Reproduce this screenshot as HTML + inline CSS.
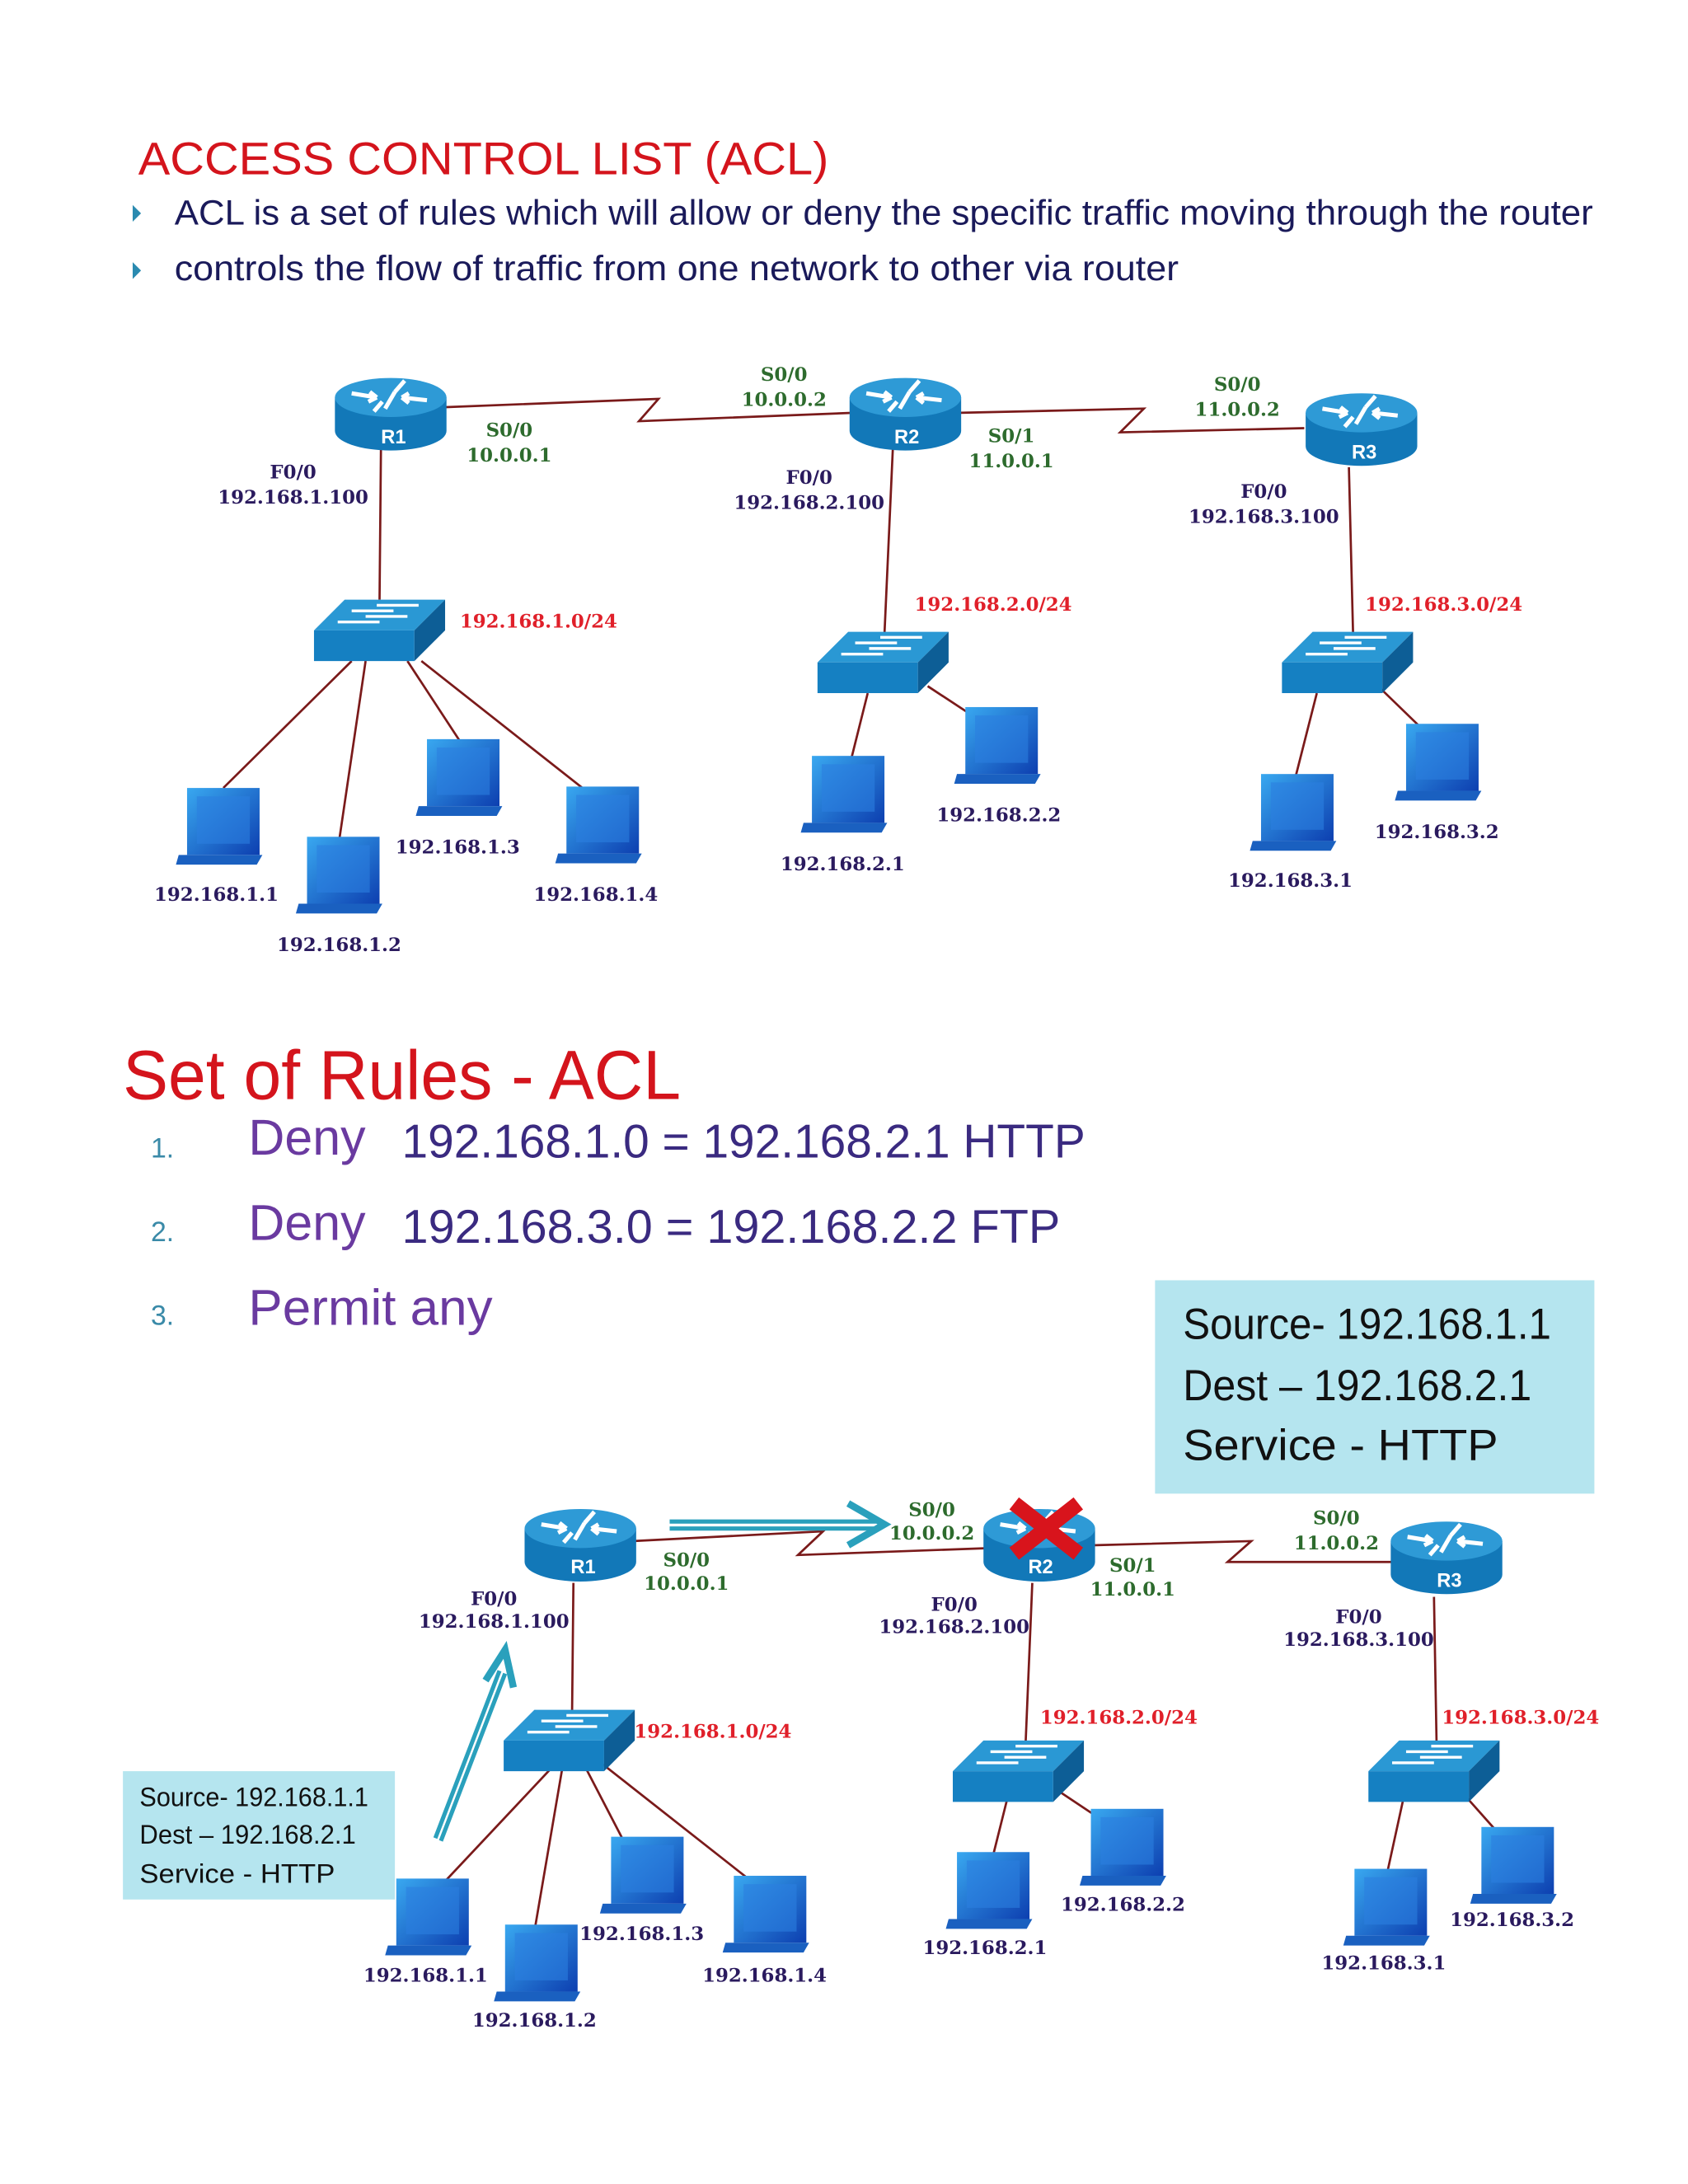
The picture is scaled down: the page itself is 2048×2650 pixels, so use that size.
<!DOCTYPE html>
<html><head><meta charset="utf-8"><style>
html,body{margin:0;padding:0;background:#fff;}
svg{display:block;}
.lb{font-family:"DejaVu Serif","Liberation Serif",serif;font-weight:bold;font-size:13.5px;text-anchor:middle;}
.g{fill:#2d6b2d}.n{fill:#2a1a5e}.r{fill:#e0202a}
.ln{stroke:#7a1a1a;stroke-width:1.6;fill:none}
</style></head><body>
<svg width="2048" height="2650" viewBox="0 0 1210 1566" xmlns="http://www.w3.org/2000/svg">
<defs>
<linearGradient id="pg" x1="0" y1="0" x2="1" y2="1"><stop offset="0" stop-color="#39a8f0"/><stop offset="1" stop-color="#0d3fb0"/></linearGradient>
<g id="router">
<path d="M-40,-12 L-40,12 A40,14 0 0 0 40,12 L40,-12 Z" fill="#1278b8"/>
<ellipse cx="0" cy="-12" rx="40" ry="14" fill="#2e9ad6"/>
<path d="M-28,-15 L-10,-12 M-10,-12 l-5,-4 M-10,-12 l-6,3 M26,-10 L8,-12 M8,-12 l5,-3 M8,-12 l5,4 M-4,-4 L3,-16 M-12,-2 l6,-7 M10,-24 L3,-16" stroke="#fff" stroke-width="3" fill="none"/>
</g>
<g id="switch">
<path d="M-47,4 L25,4 L47,-18 L-25,-18 Z" fill="#2a98d4"/>
<path d="M-47,4 L25,4 L25,26 L-47,26 Z" fill="#1580c2"/>
<path d="M25,4 L47,-18 L47,4 L25,26 Z" fill="#0d5e96"/>
<path d="M-20,-10 L10,-10 M-30,-2 L0,-2 M-2,-14 L28,-14 M-10,-6 L20,-6" stroke="#fff" stroke-width="2"/>
</g>
<g id="pc">
<rect x="-26" y="-28" width="52" height="48" fill="url(#pg)"/>
<rect x="-19" y="-22" width="38" height="34" fill="#2b7fe0" opacity="0.6"/>
<path d="M-32,20 L28,20 L24,27 L-34,27 Z" fill="#1a60c0"/>
</g>
</defs>

<!-- header -->
<text x="99" y="125" font-family="'Liberation Sans',sans-serif" font-size="33" fill="#d4141c" textLength="495" lengthAdjust="spacingAndGlyphs">ACCESS CONTROL LIST  (ACL)</text>
<path d="M95,147 L101,153 L95,159 Z" fill="#2a8ab0"/>
<path d="M95,188 L101,194 L95,200 Z" fill="#2a8ab0"/>
<text x="125" y="161" font-family="'Liberation Sans',sans-serif" font-size="25" fill="#1a1a5a" textLength="1017" lengthAdjust="spacingAndGlyphs">ACL is a set of rules which will allow or deny the specific traffic moving through the router</text>
<text x="125" y="201" font-family="'Liberation Sans',sans-serif" font-size="25" fill="#1a1a5a" textLength="720" lengthAdjust="spacingAndGlyphs">controls the flow of traffic from one network to other via router</text>

<!-- diagram 1 links -->
<path class="ln" d="M318,292 L472,286 L458,302 L612,296"/>
<path class="ln" d="M688,296 L820,293 L803,310 L935,307"/>
<path class="ln" d="M273,322 L272,430 M640,322 L634,455 M967,335 L970,455"/>
<path class="ln" d="M252,474 L160,565 M262,474 L243,603 M292,474 L330,532 M302,474 L420,567"/>
<path class="ln" d="M622,497 L610,545 M665,492 L700,515 M944,497 L928,560 M990,494 L1022,525"/>
<use href="#router" x="280" y="297"/>
<use href="#router" x="649" y="297"/>
<use href="#router" x="976" y="308"/>
<text x="282" y="318" fill="#fff" font-family="'Liberation Sans',sans-serif" font-weight="bold" font-size="14" text-anchor="middle">R1</text>
<text x="650" y="318" fill="#fff" font-family="'Liberation Sans',sans-serif" font-weight="bold" font-size="14" text-anchor="middle">R2</text>
<text x="978" y="329" fill="#fff" font-family="'Liberation Sans',sans-serif" font-weight="bold" font-size="14" text-anchor="middle">R3</text>
<use href="#switch" x="272" y="448"/>
<use href="#switch" x="633" y="471"/>
<use href="#switch" x="966" y="471"/>
<use href="#pc" x="160" y="593"/>
<use href="#pc" x="246" y="628"/>
<use href="#pc" x="332" y="558"/>
<use href="#pc" x="432" y="592"/>
<use href="#pc" x="608" y="570"/>
<use href="#pc" x="718" y="535"/>
<use href="#pc" x="930" y="583"/>
<use href="#pc" x="1034" y="547"/>
<g class="lb">
<text class="g" x="365" y="313">S0/0</text><text class="g" x="365" y="331">10.0.0.1</text>
<text class="g" x="562" y="273">S0/0</text><text class="g" x="562" y="291">10.0.0.2</text>
<text class="g" x="725" y="317">S0/1</text><text class="g" x="725" y="335">11.0.0.1</text>
<text class="g" x="887" y="280">S0/0</text><text class="g" x="887" y="298">11.0.0.2</text>
<text class="n" x="210" y="343">F0/0</text><text class="n" x="210" y="361">192.168.1.100</text>
<text class="n" x="580" y="347">F0/0</text><text class="n" x="580" y="365">192.168.2.100</text>
<text class="n" x="906" y="357">F0/0</text><text class="n" x="906" y="375">192.168.3.100</text>
<text class="r" x="386" y="450">192.168.1.0/24</text>
<text class="r" x="712" y="438">192.168.2.0/24</text>
<text class="r" x="1035" y="438">192.168.3.0/24</text>
<text class="n" x="155" y="646">192.168.1.1</text>
<text class="n" x="243" y="682">192.168.1.2</text>
<text class="n" x="328" y="612">192.168.1.3</text>
<text class="n" x="427" y="646">192.168.1.4</text>
<text class="n" x="604" y="624">192.168.2.1</text>
<text class="n" x="716" y="589">192.168.2.2</text>
<text class="n" x="925" y="636">192.168.3.1</text>
<text class="n" x="1030" y="601">192.168.3.2</text>
</g>

<!-- rules -->
<text x="88" y="788" font-family="'Liberation Sans',sans-serif" font-size="50" fill="#d4141c" textLength="400" lengthAdjust="spacingAndGlyphs">Set of Rules - ACL</text>
<g font-family="'Liberation Sans',sans-serif">
<text x="108" y="830" font-size="20" fill="#3a8aa8">1.</text>
<text x="108" y="890" font-size="20" fill="#3a8aa8">2.</text>
<text x="108" y="950" font-size="20" fill="#3a8aa8">3.</text>
<text x="178" y="828" font-size="36" fill="#6a3aa0" textLength="84" lengthAdjust="spacingAndGlyphs">Deny</text>
<text x="288" y="830" font-size="34" fill="#3a2a80" textLength="490" lengthAdjust="spacingAndGlyphs">192.168.1.0 = 192.168.2.1 HTTP</text>
<text x="178" y="889" font-size="36" fill="#6a3aa0" textLength="84" lengthAdjust="spacingAndGlyphs">Deny</text>
<text x="288" y="891" font-size="34" fill="#3a2a80" textLength="472" lengthAdjust="spacingAndGlyphs">192.168.3.0 = 192.168.2.2  FTP</text>
<text x="178" y="950" font-size="36" fill="#6a3aa0" textLength="175" lengthAdjust="spacingAndGlyphs">Permit any</text>
</g>
<rect x="828" y="918" width="315" height="153" fill="#b5e5ef"/>
<g font-family="'Liberation Sans',sans-serif" font-size="31" fill="#111">
<text x="848" y="960" textLength="264" lengthAdjust="spacingAndGlyphs">Source- 192.168.1.1</text>
<text x="848" y="1004" textLength="250" lengthAdjust="spacingAndGlyphs">Dest – 192.168.2.1</text>
<text x="848" y="1047" textLength="226" lengthAdjust="spacingAndGlyphs">Service -  HTTP</text>
</g>
<rect x="88" y="1270" width="195" height="92" fill="#b5e5ef"/>
<g font-family="'Liberation Sans',sans-serif" font-size="19" fill="#111">
<text x="100" y="1295" textLength="164" lengthAdjust="spacingAndGlyphs">Source- 192.168.1.1</text>
<text x="100" y="1322" textLength="155" lengthAdjust="spacingAndGlyphs">Dest – 192.168.2.1</text>
<text x="100" y="1350" textLength="140" lengthAdjust="spacingAndGlyphs">Service -  HTTP</text>
</g>

<!-- diagram 2 -->
<path class="ln" d="M454,1105 L590,1098 L572,1115 L710,1110"/>
<path class="ln" d="M783,1108 L897,1105 L880,1120 L1000,1120"/>
<path class="ln" d="M411,1135 L410,1232 M740,1135 L735,1255 M1028,1145 L1030,1258"/>
<path class="ln" d="M395,1268 L318,1350 M403,1268 L383,1385 M420,1268 L447,1320 M432,1265 L540,1350"/>
<path class="ln" d="M722,1290 L712,1330 M760,1285 L790,1305 M1006,1290 L994,1345 M1048,1285 L1072,1312"/>
<use href="#router" x="416" y="1108"/>
<use href="#router" x="745" y="1108"/>
<use href="#router" x="1037" y="1117"/>
<text x="418" y="1128" fill="#fff" font-family="'Liberation Sans',sans-serif" font-weight="bold" font-size="14" text-anchor="middle">R1</text>
<text x="746" y="1128" fill="#fff" font-family="'Liberation Sans',sans-serif" font-weight="bold" font-size="14" text-anchor="middle">R2</text>
<text x="1039" y="1138" fill="#fff" font-family="'Liberation Sans',sans-serif" font-weight="bold" font-size="14" text-anchor="middle">R3</text>
<path d="M727,1078 L773,1114 M773,1078 L727,1114" stroke="#d8141c" stroke-width="11"/>
<use href="#switch" x="408" y="1244"/>
<use href="#switch" x="730" y="1266"/>
<use href="#switch" x="1028" y="1266"/>
<use href="#pc" x="310" y="1375"/>
<use href="#pc" x="388" y="1408"/>
<use href="#pc" x="464" y="1345"/>
<use href="#pc" x="552" y="1373"/>
<use href="#pc" x="712" y="1356"/>
<use href="#pc" x="808" y="1325"/>
<use href="#pc" x="997" y="1368"/>
<use href="#pc" x="1088" y="1338"/>
<!-- arrows -->
<path d="M480,1091 L628,1091 M480,1096 L628,1096" stroke="#2aa0bc" stroke-width="3"/>
<path d="M608,1078 L634,1093 L608,1108" stroke="#2aa0bc" stroke-width="5" fill="none"/>
<path d="M312,1318 L358,1198 M316,1320 L362,1200" stroke="#2aa0bc" stroke-width="3"/>
<path d="M348,1205 L362,1183 L368,1210" stroke="#2aa0bc" stroke-width="5" fill="none"/>
<g class="lb">
<text class="g" x="492" y="1123">S0/0</text><text class="g" x="492" y="1140">10.0.0.1</text>
<text class="g" x="668" y="1087">S0/0</text><text class="g" x="668" y="1104">10.0.0.2</text>
<text class="g" x="812" y="1127">S0/1</text><text class="g" x="812" y="1144">11.0.0.1</text>
<text class="g" x="958" y="1093">S0/0</text><text class="g" x="958" y="1111">11.0.0.2</text>
<text class="n" x="354" y="1151">F0/0</text><text class="n" x="354" y="1167">192.168.1.100</text>
<text class="n" x="684" y="1155">F0/0</text><text class="n" x="684" y="1171">192.168.2.100</text>
<text class="n" x="974" y="1164">F0/0</text><text class="n" x="974" y="1180">192.168.3.100</text>
<text class="r" x="511" y="1246">192.168.1.0/24</text>
<text class="r" x="802" y="1236">192.168.2.0/24</text>
<text class="r" x="1090" y="1236">192.168.3.0/24</text>
<text class="n" x="305" y="1421">192.168.1.1</text>
<text class="n" x="383" y="1453">192.168.1.2</text>
<text class="n" x="460" y="1391">192.168.1.3</text>
<text class="n" x="548" y="1421">192.168.1.4</text>
<text class="n" x="706" y="1401">192.168.2.1</text>
<text class="n" x="805" y="1370">192.168.2.2</text>
<text class="n" x="992" y="1412">192.168.3.1</text>
<text class="n" x="1084" y="1381">192.168.3.2</text>
</g>
</svg>
</body></html>
